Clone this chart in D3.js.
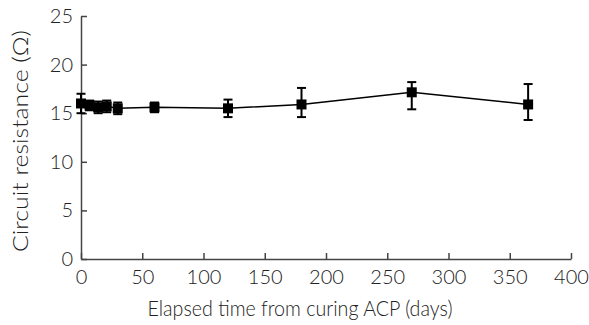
<!DOCTYPE html>
<html><head><meta charset="utf-8">
<script src="https://cdn.jsdelivr.net/npm/d3@7"></script>
<style>body{margin:0;background:#fff}svg{display:block}text{font-family:Lato,"Open Sans",sans-serif;font-weight:300;fill:#222}</style>
</head><body><svg id="c" width="589" height="325"></svg>
<script>
const days = [0, 7, 14, 21, 30, 60, 120, 180, 270, 365];
const resistance = [16.0, 15.8, 15.6, 15.7, 15.5, 15.6, 15.5, 15.9, 17.15, 15.9];
const errUp = [1.0, 0.5, 0.6, 0.6, 0.6, 0.5, 0.9, 1.7, 1.05, 2.1];
const errDown = [1.0, 0.5, 0.6, 0.6, 0.6, 0.5, 0.9, 1.3, 1.75, 1.6];
const xTicks = [0, 50, 100, 150, 200, 250, 300, 350, 400];
const yTicks = [0, 5, 10, 15, 20, 25];

const svg = d3.select("#c");
const x = d3.scaleLinear().domain([0, 400]).range([81, 571]);
const y = d3.scaleLinear().domain([0, 25]).range([259, 16]);
const axisColor = "#444";

const gx = svg.append("g").attr("transform", "translate(0,259)")
  .call(d3.axisBottom(x).tickValues(xTicks).tickSizeInner(-6).tickSizeOuter(0).tickPadding(8));
const gy = svg.append("g").attr("transform", "translate(81,0)")
  .call(d3.axisLeft(y).tickValues(yTicks).tickSizeInner(-6).tickSizeOuter(0).tickPadding(8));
[gx, gy].forEach(g => {
  g.select(".domain").attr("stroke", axisColor).attr("stroke-width", 1.5);
  g.selectAll(".tick line").attr("stroke", axisColor).attr("stroke-width", 1.5);
  g.selectAll(".tick text").attr("font-size", 20).attr("font-family", "Lato").attr("font-weight", 300).attr("fill", "#222");
});
gx.selectAll(".tick text").attr("dy", "0.85em");

const pts = days.map((d, i) => ({d, v: resistance[i], hi: resistance[i] + errUp[i], lo: resistance[i] - errDown[i]}));

svg.append("path").datum(pts)
  .attr("fill", "none").attr("stroke", "#000").attr("stroke-width", 1.5)
  .attr("d", d3.line().x(p => x(p.d)).y(p => y(p.v)));

const eb = svg.append("g").attr("stroke", "#000").attr("stroke-width", 2);
pts.forEach(p => {
  eb.append("line").attr("x1", x(p.d)).attr("x2", x(p.d)).attr("y1", y(p.hi)).attr("y2", y(p.lo));
  eb.append("line").attr("x1", x(p.d) - 4.5).attr("x2", x(p.d) + 4.5).attr("y1", y(p.hi)).attr("y2", y(p.hi));
  eb.append("line").attr("x1", x(p.d) - 4.5).attr("x2", x(p.d) + 4.5).attr("y1", y(p.lo)).attr("y2", y(p.lo));
});

const s = 10;
svg.append("g").selectAll("rect").data(pts).join("rect")
  .attr("x", p => x(p.d) - s / 2).attr("y", p => y(p.v) - s / 2)
  .attr("width", s).attr("height", s).attr("fill", "#000");

svg.append("text").attr("x", 300).attr("y", 316).attr("text-anchor", "middle")
  .attr("font-size", 21).attr("textLength", 305).attr("lengthAdjust", "spacingAndGlyphs")
  .text("Elapsed time from curing ACP (days)");
svg.append("text").attr("transform", "translate(28,141) rotate(-90)").attr("text-anchor", "middle")
  .attr("font-size", 21).attr("textLength", 222).attr("lengthAdjust", "spacingAndGlyphs")
  .text("Circuit resistance (Ω)");
</script></body></html>
